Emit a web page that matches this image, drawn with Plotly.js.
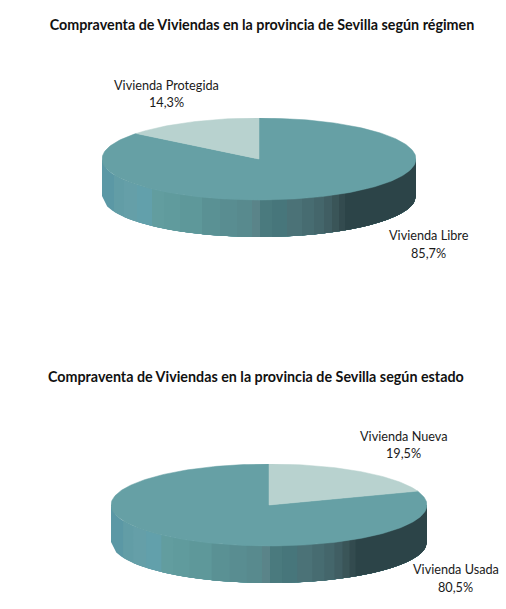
<!DOCTYPE html>
<html>
<head>
<meta charset="utf-8">
<script src="https://cdn.plot.ly/plotly-3.0.1.min.js"></script>
<style>html,body{margin:0;padding:0;background:#fff}#chart{width:506px;height:609px}</style>
</head>
<body>
<div id="chart"></div>
<script>
// Data
var titleRegimen = 'Compraventa de Viviendas en la provincia de Sevilla según régimen';
var titleEstado = 'Compraventa de Viviendas en la provincia de Sevilla según estado';
var regimenCategories = ['Vivienda Protegida', 'Vivienda Libre'];
var regimenValues = [14.3, 85.7];
var estadoCategories = ['Vivienda Nueva', 'Vivienda Usada'];
var estadoValues = [19.5, 80.5];

// Style
var WIDTH = 506, HEIGHT = 609;
var lightColor = '#B8D2CF', mainColor = '#66A0A5';
var bandEdges = [0, 12, 22, 35, 50, 62, 78, 100, 118, 135, 150, 158, 170, 185, 200, 212, 222, 230, 237, 243];
var bandColors = ['#5B98A5', '#629DA6', '#659FA8', '#62A0AB', '#629D9F', '#609B9D', '#5E989A', '#5A9194', '#598D91', '#588A8E',
                  '#5A8489', '#4A7A7E', '#47767B', '#4B7277', '#476C71', '#44666B', '#405E63', '#3A5558', '#334B4F', '#2C4448'];
var depthUnits = 37 / 41;

function pie(name, categories, values, sign, ax, ay, traces) {
  var xa = 'x' + ax, ya = 'y' + ay;
  // front wall strips: each one runs to the right edge and the next paints over it
  bandColors.forEach(function (c, i) {
    var x0 = bandEdges[i] / 157 - 1, x1 = 1;
    var xs = [], ys = [], n = 60, k, x;
    for (k = 0; k <= n; k++) { x = x0 + (x1 - x0) * k / n; xs.push(x); ys.push(-Math.sqrt(Math.max(0, 1 - x * x))); }
    for (k = n; k >= 0; k--) { x = x0 + (x1 - x0) * k / n; xs.push(x); ys.push(-Math.sqrt(Math.max(0, 1 - x * x)) - depthUnits); }
    traces.push({type: 'scatter', mode: 'lines', x: xs, y: ys, xaxis: xa, yaxis: ya, fill: 'toself',
      fillcolor: c, line: {color: c, width: 0}, hoverinfo: 'skip', showlegend: false, cliponaxis: false});
  });
  // top slices: first category starts at 12 o'clock and turns by sign
  var total = values[0] + values[1];
  values.slice().reverse().forEach(function (v, idx) {
    // main slice drawn first, light slice on top
    var i = values.length - 1 - idx;
    var from = i === 0 ? 0 : values[0] / total * 2 * Math.PI;
    var span = v / total * 2 * Math.PI;
    var xs = [0], ys = [0], steps = Math.ceil(span / 0.02);
    for (var k = 0; k <= steps; k++) {
      var a = from + span * k / steps;
      xs.push(sign * Math.sin(a)); ys.push(Math.cos(a));
    }
    xs.push(0); ys.push(0);
    var c = i === 0 ? lightColor : mainColor;
    traces.push({type: 'scatter', mode: 'lines', name: categories[i], x: xs, y: ys, xaxis: xa, yaxis: ya,
      fill: 'toself', fillcolor: c, line: {color: c, width: 0.5}, showlegend: false, cliponaxis: false,
      text: categories[i] + ' ' + String(v).replace('.', ',') + '%', hoverinfo: 'text'});
  });
}

var traces = [];
pie('regimen', regimenCategories, regimenValues, -1, '', '', traces);
pie('estado', estadoCategories, estadoValues, 1, '2', '2', traces);

function note(text, x, y, font) {
  return {xref: 'paper', yref: 'paper', x: x / WIDTH, y: 1 - y / HEIGHT, xanchor: 'center', yanchor: 'middle',
    showarrow: false, align: 'center', text: text, font: font};
}
var labelFont = {family: 'Lato', size: 12.7, color: '#1a1a1a'};
var titleFont = {family: 'Lato', size: 14.3, color: '#111'};
function label(cat, val, x, y) {
  return [note(cat, x, y, labelFont), note(String(val).replace('.', ',') + '%', x, y + 17.5, labelFont)];
}
function hidden(left, right, range) {
  return {domain: [left / WIDTH, right / WIDTH], range: range, visible: false, fixedrange: true};
}
function hiddenY(top, bottom, range, anchor) {
  return {domain: [1 - bottom / HEIGHT, 1 - top / HEIGHT], range: range, visible: false, fixedrange: true, anchor: anchor};
}

var layout = {
  width: WIDTH, height: HEIGHT,
  margin: {l: 0, r: 0, t: 0, b: 0, pad: 0},
  paper_bgcolor: '#fff', plot_bgcolor: '#fff',
  showlegend: false,
  title: {text: '<b>' + titleRegimen + '</b>', x: 262 / WIDTH, xanchor: 'center', xref: 'paper',
          y: 1 - 25 / HEIGHT, yanchor: 'middle', yref: 'paper', font: titleFont},
  xaxis: hidden(102, 416, [-1, 1]),
  yaxis: hiddenY(118, 237, [-1 - depthUnits, 1], 'x'),
  xaxis2: Object.assign(hidden(111, 427, [-1, 1]), {anchor: 'y2'}),
  yaxis2: hiddenY(464, 583, [-1 - depthUnits, 1], 'x2'),
  annotations: [note('<b>' + titleEstado + '</b>', 256, 376, titleFont)]
    .concat(label(regimenCategories[0], regimenValues[0], 166.5, 84.5))
    .concat(label(regimenCategories[1], regimenValues[1], 428.5, 235))
    .concat(label(estadoCategories[0], estadoValues[0], 403.5, 435.5))
    .concat(label(estadoCategories[1], estadoValues[1], 455.5, 569))
};
Plotly.newPlot('chart', traces, layout, {displayModeBar: false, staticPlot: true});
</script>
</body>
</html>
